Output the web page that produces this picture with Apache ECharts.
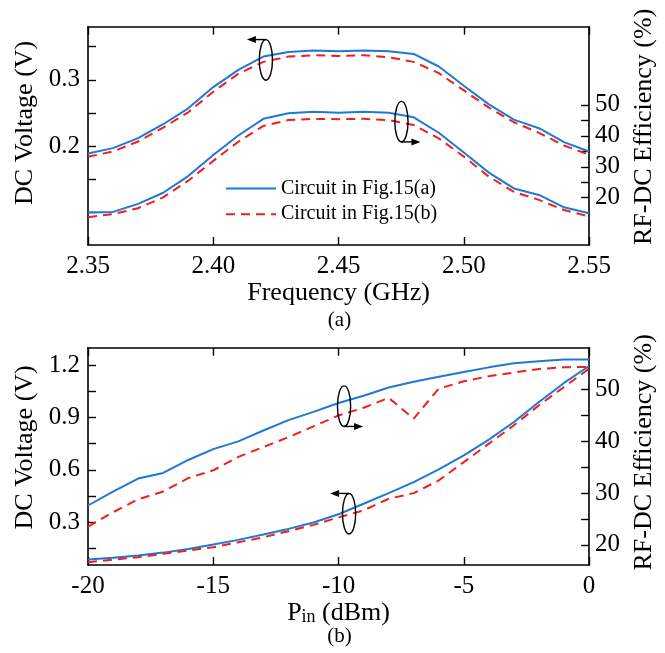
<!DOCTYPE html>
<html><head><meta charset="utf-8">
<script src="https://cdn.jsdelivr.net/npm/echarts@6/dist/echarts.min.js"></script>
<style>html,body{margin:0;padding:0;background:#fff}#c{width:665px;height:653px}</style>
</head><body><div id="c"></div>
<script>
// ---------- data: (a) frequency sweep ----------
const freq = [2.35,2.36,2.37,2.38,2.39,2.40,2.41,2.42,2.43,2.44,2.45,2.46,2.47,2.48,2.49,2.50,2.51,2.52,2.53,2.54,2.55];
const freqVoltA = [0.189,0.197,0.212,0.233,0.257,0.289,0.315,0.335,0.342,0.344,0.343,0.344,0.343,0.339,0.320,0.291,0.263,0.240,0.227,0.206,0.192];
const freqVoltB = [0.184,0.192,0.207,0.228,0.251,0.282,0.309,0.327,0.335,0.337,0.336,0.337,0.334,0.327,0.310,0.284,0.258,0.236,0.220,0.201,0.187];
const freqEffA  = [15.2,15.4,18.0,21.6,27.0,33.8,40.1,45.5,47.3,47.8,47.5,47.8,47.5,46.0,41.0,34.6,28.1,23.0,20.9,16.9,15.0];
const freqEffB  = [13.7,14.7,16.6,20.1,25.5,31.9,38.1,43.2,45.1,45.5,45.4,45.5,45.1,43.5,39.2,33.3,26.8,21.9,19.3,16.0,13.9];
// ---------- data: (b) input power sweep ----------
const pin = [-20,-19,-18,-17,-16,-15,-14,-13,-12,-11,-10,-9,-8,-7,-6,-5,-4,-3,-2,-1,0];
const pinVoltA = [0.085,0.095,0.108,0.125,0.146,0.171,0.198,0.229,0.261,0.298,0.345,0.405,0.466,0.529,0.602,0.683,0.773,0.874,0.989,1.098,1.195];
const pinVoltB = [0.070,0.085,0.098,0.118,0.137,0.156,0.184,0.213,0.248,0.284,0.327,0.367,0.434,0.466,0.539,0.644,0.750,0.855,0.970,1.075,1.180];
const pinEffA  = [27.6,30.3,32.8,33.9,36.4,38.5,40.0,42.1,44.1,45.7,47.4,48.8,50.4,51.5,52.5,53.4,54.3,55.1,55.5,55.8,55.8];
const pinEffB  = [23.5,26.3,28.8,30.3,32.9,34.4,37.0,38.9,40.8,42.9,45.0,46.5,48.4,44.4,50.2,51.6,52.6,53.3,54.0,54.3,54.4];
// ---------- tick values ----------
const freqTicks = [2.35,2.40,2.45,2.50,2.55];
const pinTicks = [-20,-15,-10,-5,0];
const voltTickA = [0.10,0.15,0.20,0.25,0.30,0.35];
const voltLabelA = [0.2,0.3];
const effTickA = [20,25,30,35,40,45,50];
const effLabelA = [20,30,40,50];
const voltTickB = [0.15,0.30,0.45,0.60,0.75,0.90,1.05,1.20];
const voltLabelB = [0.3,0.6,0.9,1.2];
const effTickB = [20,25,30,35,40,45,50];
const effLabelB = [20,30,40,50];
const nameA = 'Circuit in Fig.15(a)';
const nameB = 'Circuit in Fig.15(b)';
// annotation anchors (data coords): [xAxisIndex, yAxisIndex, x, y, arrow direction, arrow at top/bottom]
const notes = [
  [0, 0, 2.421, 0.330, -1, 'top'],
  [0, 1, 2.4751, 44.6, 1, 'bottom'],
  [2, 3, -9.78, 46.8, 1, 'bottom'],
  [2, 2, -9.58, 0.348, -1, 'top']
];

const FONT = '"Liberation Serif", "Times New Roman", Times, serif';
const BLUE = '#1f77d6';
const RED = '#f01e1e';
const zip = (xs, ys) => xs.map((x, i) => [x, ys[i]]);

const chart = echarts.init(document.getElementById('c'), null, {renderer: 'canvas'});
const axLine = {show: true, onZero: false, lineStyle: {color: '#000', width: 1.6}};
const tickSt = {inside: true, length: 8, lineStyle: {color: '#000', width: 1.4}};
const labSt = {color: '#000', fontFamily: FONT, fontSize: 25};
const nameSt = {color: '#000', fontFamily: FONT, fontSize: 26};

function xAx(grid, min, max, interval, fmt, extra) {
  return [
    Object.assign({gridIndex: grid, type: 'value', position: 'bottom', min, max, interval,
      axisLine: axLine, axisTick: tickSt, splitLine: {show: false},
      axisLabel: Object.assign({formatter: fmt, margin: 9}, labSt),
      nameLocation: 'middle'}, extra),
    {gridIndex: grid, type: 'value', position: 'top', min, max, interval,
      axisLine: axLine, axisTick: tickSt, splitLine: {show: false}, axisLabel: {show: false}}
  ];
}
function yAx(grid, pos, min, max, ticks, labels, fmt, name, gap, pad) {
  return {gridIndex: grid, type: 'value', position: pos, min, max,
    axisLine: axLine, splitLine: {show: false},
    axisTick: Object.assign({customValues: ticks}, tickSt),
    axisLabel: Object.assign({customValues: labels, formatter: fmt, margin: pos === 'left' ? 8 : 6}, labSt),
    name, nameLocation: 'middle', nameGap: gap,
    nameTextStyle: Object.assign({padding: pad}, nameSt)};
}
const lineS = (name, xi, yi, data, color, dashed) => ({
  name, type: 'line', xAxisIndex: xi, yAxisIndex: yi, data, symbol: 'none', smooth: false,
  lineStyle: {color, width: 2, type: dashed ? [9, 6] : 'solid'}, itemStyle: {color}, z: dashed ? 3 : 2,
  animation: false
});

const option = {
  animation: false,
  backgroundColor: '#fff',
  textStyle: {fontFamily: FONT},
  grid: [
    {left: 88, width: 503, top: 26.7, height: 218.3},
    {left: 88, width: 503, top: 347.7, height: 217.3}
  ],
  legend: {
    orient: 'vertical', left: 220, top: 173.5, itemWidth: 50, itemHeight: 14, itemGap: 5.7,
    itemStyle: {opacity: 0},
    textStyle: {color: '#000', fontFamily: FONT, fontSize: 20},
    data: [nameA, nameB]
  },
  xAxis: [
    ...xAx(0, 2.35, 2.55, 0.05, v => v.toFixed(2), {name: 'Frequency (GHz)', nameGap: 32, nameTextStyle: nameSt}),
    ...xAx(1, -20, 0, 5, v => String(v), {
      name: '{p|P}{s|in}{p| (dBm)}', nameGap: 31,
      nameTextStyle: {color: '#000', fontFamily: FONT, fontSize: 26,
        rich: {p: {fontFamily: FONT, fontSize: 26, color: '#000', verticalAlign: 'bottom', lineHeight: 28},
               s: {fontFamily: FONT, fontSize: 18, color: '#000', verticalAlign: 'bottom', lineHeight: 8}}}
    })
  ],
  yAxis: [
    yAx(0, 'left', 0.051, 0.380, voltTickA, voltLabelA, v => v.toFixed(1), 'DC Voltage (V)', 36, [0, 0, 0, 26]),
    yAx(0, 'right', 4.7, 75.3, effTickA, effLabelA, v => String(v), 'RF-DC Efficiency (%)', 26, [0, 0, 0, 18]),
    yAx(1, 'left', 0.054, 1.30, voltTickB, voltLabelB, v => v.toFixed(1), 'DC Voltage (V)', 36, [0, 0, 0, 18]),
    yAx(1, 'right', 16.1, 58.1, effTickB, effLabelB, v => String(v), 'RF-DC Efficiency (%)', 26, [0, 0, 0, 8])
  ],
  series: [
    lineS(nameA, 0, 0, zip(freq, freqVoltA), BLUE, false),
    lineS(nameB, 0, 0, zip(freq, freqVoltB), RED, true),
    lineS(nameA, 0, 1, zip(freq, freqEffA), BLUE, false),
    lineS(nameB, 0, 1, zip(freq, freqEffB), RED, true),
    lineS(nameA, 2, 2, zip(pin, pinVoltA), BLUE, false),
    lineS(nameB, 2, 2, zip(pin, pinVoltB), RED, true),
    lineS(nameA, 2, 3, zip(pin, pinEffA), BLUE, false),
    lineS(nameB, 2, 3, zip(pin, pinEffB), RED, true)
  ]
};
chart.setOption(option);

// annotations: ellipses with arrows, placed through the axes' own scales
const RX = 6.6, RY = 20.3, AL = 19;
const graphics = [];
notes.forEach(n => {
  const [xi, yi, x, y, dir, at] = n;
  const p = chart.convertToPixel({xAxisIndex: xi, yAxisIndex: yi}, [x, y]);
  graphics.push({type: 'ellipse', shape: {cx: p[0], cy: p[1], rx: RX, ry: RY},
    style: {fill: 'none', stroke: '#000', lineWidth: 1.4}, z: 10});
  const ay = at === 'top' ? p[1] - RY : p[1] + RY;
  const tip = p[0] + dir * AL;
  graphics.push({type: 'line', shape: {x1: p[0], y1: ay, x2: tip - dir * 6, y2: ay},
    style: {stroke: '#000', lineWidth: 1.4}, z: 10});
  graphics.push({type: 'polygon', shape: {points: [[tip, ay], [tip - dir * 9, ay - 3.5], [tip - dir * 9, ay + 3.5]]},
    style: {fill: '#000'}, z: 10});
});
graphics.push({type: 'text', x: 339.5, y: 320, style: {text: '(a)', fill: '#000', fontFamily: FONT, fontSize: 21, align: 'center', verticalAlign: 'middle'}});
graphics.push({type: 'text', x: 339.5, y: 636, style: {text: '(b)', fill: '#000', fontFamily: FONT, fontSize: 21, align: 'center', verticalAlign: 'middle'}});
chart.setOption({graphic: graphics});
</script></body></html>
